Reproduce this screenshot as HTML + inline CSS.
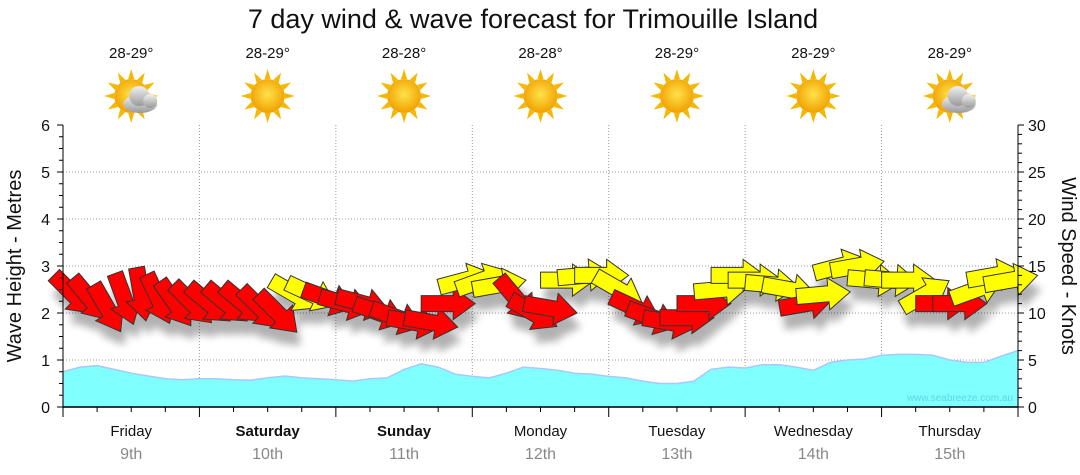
<!DOCTYPE html>
<html><head><meta charset="utf-8"><style>
body{margin:0;background:#fff;}
svg{display:block;font-family:"Liberation Sans","DejaVu Sans",sans-serif;}
</style></head><body>
<svg id="c" width="1080" height="475" viewBox="0 0 1080 475">
<defs>
<filter id="sh" x="-50%" y="-50%" width="200%" height="200%"><feGaussianBlur stdDeviation="4"/></filter>
<radialGradient id="sun" cx="50%" cy="45%" r="55%"><stop offset="0" stop-color="#ffe24a"/><stop offset="1" stop-color="#f0a000"/></radialGradient>
<linearGradient id="cloud" x1="0" y1="0" x2="0" y2="1"><stop offset="0" stop-color="#f2f2f2"/><stop offset="1" stop-color="#9a9a9a"/></linearGradient>
</defs>
<text x="533" y="28" font-size="27" text-anchor="middle" fill="#111">7 day wind &amp; wave forecast for Trimouille Island</text>
<g id="plot"></g>
</svg>
<script>
const days=["Friday","Saturday","Sunday","Monday","Tuesday","Wednesday","Thursday"];
const dates=["9th","10th","11th","12th","13th","14th","15th"];
const boldDays=[false,true,true,false,false,false,false];
const temps=["28-29°","28-29°","28-28°","28-28°","28-29°","28-29°","28-29°"];
const cloudy=[true,false,false,false,false,false,true];
const waveTicks=[0,1,2,3,4,5,6];
const windTicks=[0,5,10,15,20,25,30];
const waveHeights=[0.75,0.85,0.88,0.8,0.72,0.66,0.6,0.58, 0.6,0.6,0.58,0.57,0.62,0.66,0.62,0.6, 0.58,0.55,0.6,0.62,0.8,0.92,0.85,0.7, 0.65,0.62,0.72,0.85,0.82,0.78,0.72,0.7, 0.65,0.62,0.55,0.5,0.5,0.55,0.8,0.85, 0.83,0.9,0.9,0.85,0.78,0.95,1.0,1.02, 1.1,1.12,1.12,1.1,1.0,0.95,0.95,1.08,1.2];
const windSpeeds=[12,11.5,10.5,11.5,12,11.5,11,11, 11,11,11,10.5,10,12,12,11.5, 11,11,10,9.5,9,9,11,13.5, 13.5,13,11.5,10,10.5,13.5,14,14, 12.5,10.5,9.5,9,9.5,11,12.5,14, 13.5,13,12.5,11,12,15,15,13.5, 13.5,13.5,12,11,11,12.5,14,13.5];
const windDirs=[45,50,60,70,80,65,55,45, 40,40,40,45,45,30,25,20, 15,15,20,20,10,10,0,-15, -20,-10,50,30,10,0,-5,0, 30,25,20,10,0,0,-5,0, 0,5,10,-10,-5,-15,-10,5, 5,0,-30,0,0,-20,-10,-10];
const windColors=["r","r","r","r","r","r","r","r", "r","r","r","r","r","y","y","r", "r","r","r","r","r","r","r","y", "y","y","r","r","r","y","y","y", "y","r","r","r","r","r","y","y", "y","y","y","r","y","y","y","y", "y","y","y","r","r","y","y","y"];

const NS="http://www.w3.org/2000/svg";
const svg=document.getElementById('c');
const X0=63,X1=1018,Y0=407,Y1=125;
const DW=(X1-X0)/7;
function xT(i){return X0+i*DW/8;}
function yW(v){return Y0-(v/6)*(Y0-Y1);}
function yK(v){return Y0-(v/30)*(Y0-Y1);}
function mk(tag,attrs,parent){const e=document.createElementNS(NS,tag);for(const k in attrs)e.setAttribute(k,attrs[k]);(parent||svg).appendChild(e);return e;}

for(let i=1;i<7;i++){
  const g=mk('line',{x1:X0+i*DW,x2:X0+i*DW,y1:Y1,y2:Y0,stroke:'#999','stroke-dasharray':'1,2'});
  
  
}
for(const t of waveTicks){ if(t===0||t===6)continue;
  const g=mk('line',{x1:X0,x2:X1,y1:yW(t),y2:yW(t),stroke:'#999','stroke-dasharray':'1,2'});
  
  
}
let d='M'+X0+','+Y0;
waveHeights.forEach((v,i)=>{d+=' L'+xT(i).toFixed(1)+','+yW(v).toFixed(1);});
d+=' L'+X1+','+Y0+' Z';
const area=mk('path',{d:d,fill:'#80ffff',stroke:'#a8c8ff','stroke-width':1.5});


const wm=mk('text',{x:1013,y:401,'font-size':10,'text-anchor':'end',fill:'#5fd6e0'});
wm.textContent='www.seabreeze.com.au';



const arrowPath='M-27,-8 L5,-8 L5,-16 L27,0 L5,16 L5,8 L-27,8 Z';
const shG=mk('g',{opacity:0.3,filter:'url(#sh)'});
windSpeeds.forEach((s,i)=>{
  mk('path',{d:arrowPath,fill:'#000',transform:`translate(${xT(i)+10+4},${yK(s)+14}) rotate(${windDirs[i]})`},shG);
});
windSpeeds.forEach((s,i)=>{
  const a=mk('path',{d:arrowPath,fill:windColors[i]==='r'?'#ff0000':'#ffff00',stroke:'#333','stroke-width':1,transform:`translate(${xT(i)+10},${yK(s)}) rotate(${windDirs[i]})`});
  
  
});

mk('line',{x1:X0,x2:X0,y1:Y1,y2:Y0,stroke:'#000'});
mk('line',{x1:X1,x2:X1,y1:Y1,y2:Y0,stroke:'#000'});
const xa=mk('line',{x1:X0,x2:X1,y1:Y0,y2:Y0,stroke:'#000','stroke-width':1.5});


for(let m=0;m<=24;m++){const y=yW(m*0.25);mk('line',{x1:X0-(m%4?4:6),x2:X0,y1:y,y2:y,stroke:'#000'});}
for(let k=0;k<=30;k++){const y=yK(k);mk('line',{x1:X1,x2:X1+(k%5?4:6),y1:y,y2:y,stroke:'#000'});}
for(let j=0;j<=28;j++){const x=X0+j*DW/4;mk('line',{x1:x,x2:x,y1:Y0,y2:Y0+(j%4?5:10),stroke:'#000'});}
waveTicks.forEach(t=>{const e=mk('text',{x:50,y:yW(t)+6,'font-size':16,'text-anchor':'end',fill:'#111'});e.textContent=t;
  
  });
windTicks.forEach(t=>{const e=mk('text',{x:1028,y:yK(t)+6,'font-size':16,fill:'#111'});e.textContent=t;
  
  });
const yl=mk('text',{transform:'translate(21,266) rotate(-90)','font-size':20,'text-anchor':'middle',fill:'#111'});yl.textContent='Wave Height - Metres';


const yr=mk('text',{transform:'translate(1062,266) rotate(90)','font-size':20,'text-anchor':'middle',fill:'#111'});yr.textContent='Wind Speed - Knots';



days.forEach((dn,i)=>{
  const cx=X0+(i+0.5)*DW;
  const t1=mk('text',{x:cx,y:436,'font-size':15,'text-anchor':'middle',fill:'#111','font-weight':boldDays[i]?'bold':'normal'});t1.textContent=dn;
  
  
  const t2=mk('text',{x:cx,y:459,'font-size':16,'text-anchor':'middle',fill:'#888'});t2.textContent=dates[i];
  
  
  const t3=mk('text',{x:cx,y:58,'font-size':15,'text-anchor':'middle',fill:'#111'});t3.textContent=temps[i];
  
  
  const g=mk('g',{transform:`translate(${cx},96)`});
  
  
  for(let r=0;r<12;r++){mk('path',{d:'M-3,-17 L0,-27 L3,-17 Z',fill:'#f5b800',transform:`rotate(${r*30})`},g);}
  mk('circle',{cx:0,cy:0,r:17,fill:'url(#sun)'},g);
  if(cloudy[i]){
    const c=mk('g',{},g);
    mk('ellipse',{cx:9,cy:8,rx:17,ry:9,fill:'url(#cloud)'},c);
    mk('circle',{cx:8,cy:0,r:10,fill:'url(#cloud)'},c);
    mk('circle',{cx:19,cy:5,r:7,fill:'url(#cloud)'},c);
  }
});
</script>
</body></html>
